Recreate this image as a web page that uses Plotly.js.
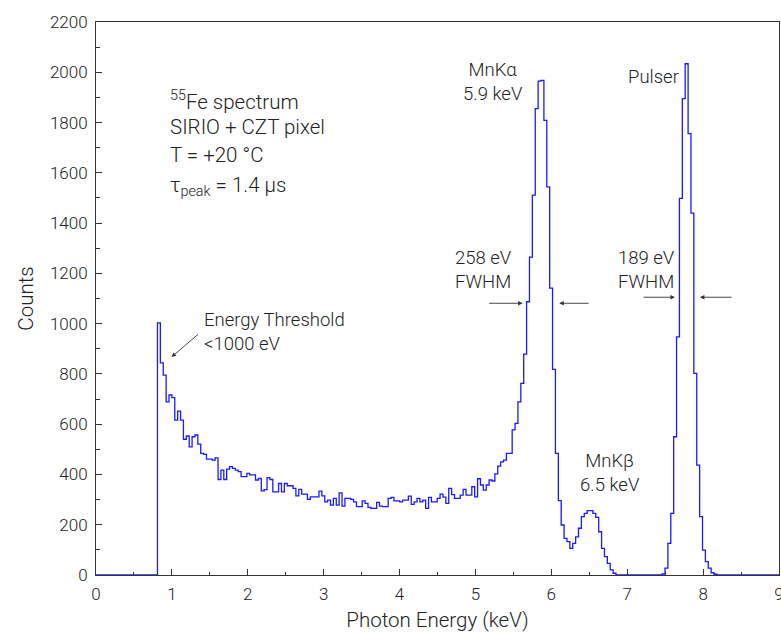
<!DOCTYPE html>
<html>
<head>
<meta charset="utf-8">
<script src="https://cdn.plot.ly/plotly-3.0.1.min.js"></script>
<style>html,body{margin:0;padding:0;background:#fff;}#chart{width:781px;height:633px;}</style>
</head>
<body>
<div id="chart"></div>
<script>
// Histogram binning (keV)
const binStart = 0.81;
const binWidth = 0.038;
const energyMin = 0;
const energyMax = 9;

// Counts per bin
const countsThresholdTail = [1003, 844, 795, 689, 716, 706, 616, 652, 616, 540, 553, 510, 550,
  557, 521, 484, 480, 461, 461, 457, 466, 380, 417, 380, 421, 431, 424, 417, 411,
  391, 391, 404, 398, 398, 378, 384, 335, 340, 387, 380, 331];
const countsContinuum = [331, 364, 331, 364, 355, 355, 345, 315, 341, 322, 322, 301, 311, 311, 311, 334, 315, 291, 298, 278,
  305, 278, 327, 274, 305, 305, 301, 291, 272, 272, 295, 285, 269, 265, 265, 289, 274, 272,
  272, 305, 309, 295, 295, 291, 298, 298, 314, 281, 291, 305, 291, 298, 265, 309, 291, 291, 305, 322, 310, 285,
  345, 320, 305, 305, 318, 341, 318, 318, 351, 311, 383, 358, 338, 358, 378, 374, 402, 433, 450, 457, 484];
const countsKalpha = [484, 577, 603, 689, 762, 879, 1087, 1265, 1511, 1855, 1965, 1968, 1809, 1544, 1141, 818, 484, 296, 199];
const countsKbeta = [146, 133, 106, 126, 152, 186, 232, 245, 256, 256, 245, 229, 172, 106, 73, 46, 20, 7];
const countsGap = [0, 0, 0, 0, 0, 0, 0, 0, 0, 0, 0, 0, 0, 0, 0, 0];
const countsPulser = [4, 27, 126, 245, 550, 947, 1498, 1895, 2034, 1756, 1440, 802, 437, 232, 99, 53, 27, 9, 3];

const xTickVals = [0, 1, 2, 3, 4, 5, 6, 7, 8, 9];
const yTickVals = [0, 200, 400, 600, 800, 1000, 1200, 1400, 1600, 1800, 2000, 2200];

const allCounts = [].concat(countsThresholdTail, countsContinuum, countsKalpha, countsKbeta, countsGap, countsPulser);
const xs = [energyMin], ys = [0];
for (let i = 0; i < allCounts.length; i++) {
  xs.push(binStart + i * binWidth);
  ys.push(allCounts[i]);
}
xs.push(binStart + allCounts.length * binWidth); ys.push(0);
xs.push(energyMax); ys.push(0);

const FONT = {family: 'Roboto, "Open Sans", sans-serif', weight: 300, color: '#222'};
function f(size) { return Object.assign({}, FONT, {size: size}); }

const trace = {
  x: xs, y: ys, type: 'scatter', mode: 'lines',
  line: {shape: 'hv', color: '#1a1aff', width: 1.3},
  hoverinfo: 'skip'
};

const textAnn = (x, y, text, xanchor, size) => ({
  x: x, y: y, xref: 'x', yref: 'y', text: text, showarrow: false,
  xanchor: xanchor || 'center', yanchor: 'middle', align: xanchor === 'left' ? 'left' : 'center',
  font: f(size || 18)
});
const arrowAnn = (x, y, ax, ay) => ({
  x: x, y: y, xref: 'x', yref: 'y', text: '', showarrow: true,
  ax: ax, ay: ay, arrowhead: 2, arrowsize: 1, arrowwidth: 0.9, arrowcolor: '#333'
});

const annotations = [
  textAnn(0.95, 1889, '<sup>55</sup>Fe spectrum', 'left', 20.5),
  textAnn(0.95, 1781, 'SIRIO + CZT pixel', 'left', 20.5),
  textAnn(0.95, 1670, 'T = +20 °C', 'left', 20.5),
  textAnn(0.95, 1545, 'τ<sub>peak</sub> = 1.4 µs', 'left', 20.5),
  textAnn(5.23, 1960, 'MnKα<br>5.9 keV', 'center', 18.5),
  textAnn(7.34, 1980, 'Pulser', 'center', 18.5),
  textAnn(5.1, 1213, '258 eV<br>FWHM', 'center', 18.5),
  textAnn(7.25, 1213, '189 eV<br>FWHM', 'center', 18.5),
  textAnn(6.77, 405, 'MnKβ<br>6.5 keV', 'center', 18.5),
  textAnn(1.4, 966, 'Energy Threshold<br><1000 eV', 'left', 18.5),
  arrowAnn(5.622, 1081, -35, 0),
  arrowAnn(6.104, 1081, 31, 0),
  arrowAnn(7.629, 1105, -33, 0),
  arrowAnn(7.958, 1105, 33, 0),
  arrowAnn(0.995, 867, 28, -24)
];

const layout = {
  width: 781, height: 633,
  margin: {l: 96, r: 2, t: 22, b: 58, pad: 0},
  paper_bgcolor: '#fff', plot_bgcolor: '#fff',
  showlegend: false,
  font: f(16),
  xaxis: {
    range: [energyMin, energyMax], tickvals: xTickVals, ticktext: xTickVals.map(String),
    ticks: 'inside', ticklen: 6, tickwidth: 1, tickcolor: '#333',
    minor: {dtick: 0.5, tick0: 0, ticks: 'inside', ticklen: 3.5, tickwidth: 1, tickcolor: '#333'},
    showline: true, linecolor: '#333', linewidth: 1, mirror: true,
    showgrid: false, zeroline: false, layer: 'below traces',
    tickfont: f(17), ticklabelstandoff: 4, ticklabeloverflow: 'allow',
    title: {text: 'Photon Energy (keV)', font: f(20.5), standoff: 9},
    automargin: false
  },
  yaxis: {
    range: [0, 2200], tickvals: yTickVals, ticktext: yTickVals.map(String),
    ticks: 'inside', ticklen: 6, tickwidth: 1, tickcolor: '#333',
    minor: {dtick: 100, tick0: 0, ticks: 'inside', ticklen: 3.5, tickwidth: 1, tickcolor: '#333'},
    showline: true, linecolor: '#333', linewidth: 1, mirror: true,
    showgrid: false, zeroline: false, layer: 'below traces',
    tickfont: f(17), ticklabelstandoff: 4,
    title: {text: 'Counts', font: f(20.5), standoff: 10},
    automargin: false
  },
  annotations: annotations
};

Plotly.newPlot('chart', [trace], layout, {staticPlot: true, displayModeBar: false});
</script>
</body>
</html>
